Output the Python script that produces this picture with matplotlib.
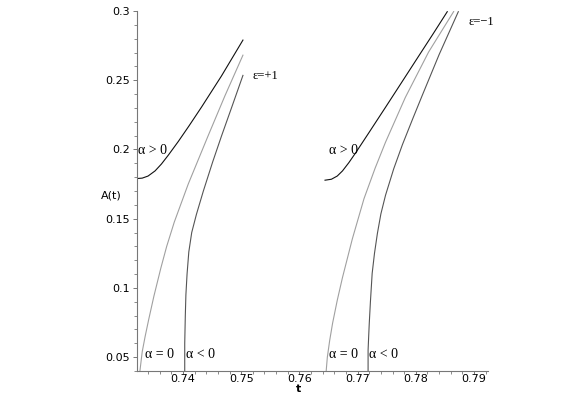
import matplotlib
matplotlib.use('Agg')
import matplotlib.pyplot as plt
from matplotlib.ticker import MultipleLocator

# curves, (t, A) pairs
# epsilon = +1
t_p1_pos = [0.7321, 0.7330, 0.7340, 0.7352, 0.7363, 0.7375, 0.7392, 0.7410, 0.7432, 0.7466, 0.7503]
A_p1_pos = [0.1790, 0.1793, 0.1808, 0.1845, 0.1895, 0.1960, 0.2058, 0.2168, 0.2307, 0.2530, 0.2790]
t_p1_zero = [0.7326, 0.7330, 0.7335, 0.7341, 0.7350, 0.7362, 0.7372, 0.7385, 0.7409, 0.7443, 0.7472, 0.7503]
A_p1_zero = [0.040, 0.054, 0.065, 0.077, 0.094, 0.1144, 0.130, 0.1475, 0.175, 0.2097, 0.2387, 0.2681]
t_p1_neg = [0.7403, 0.7403, 0.7404, 0.7405, 0.7407, 0.7410, 0.7415, 0.7423, 0.7435, 0.7451, 0.7466, 0.7485, 0.7503]
A_p1_neg = [0.040, 0.060, 0.080, 0.095, 0.110, 0.126, 0.140, 0.153, 0.170, 0.191, 0.2095, 0.232, 0.2535]

# epsilon = -1
t_m1_pos = [0.7644, 0.7655, 0.7665, 0.7674, 0.7685, 0.7697, 0.7720, 0.7748, 0.7775, 0.7805, 0.7830, 0.7854]
A_m1_pos = [0.1778, 0.1785, 0.1808, 0.1845, 0.1905, 0.1978, 0.2125, 0.2305, 0.2480, 0.2675, 0.2837, 0.2995]
t_m1_zero = [0.7646, 0.7648, 0.7652, 0.7657, 0.7665, 0.7674, 0.7691, 0.7711, 0.7730, 0.7748, 0.7782, 0.7822, 0.7865]
A_m1_zero = [0.040, 0.050, 0.062, 0.0745, 0.091, 0.1075, 0.1355, 0.1645, 0.1864, 0.2053, 0.2376, 0.2704, 0.2996]
t_m1_neg = [0.7718, 0.7718, 0.7719, 0.7720, 0.7722, 0.7725, 0.7729, 0.7734, 0.7740, 0.7748, 0.7762, 0.7777, 0.7795, 0.7811, 0.7840, 0.7873]
A_m1_neg = [0.040, 0.055, 0.065, 0.0743, 0.090, 0.1105, 0.125, 0.1394, 0.1535, 0.167, 0.186, 0.2035, 0.2225, 0.2390, 0.2685, 0.2995]

x_ticks = [0.74, 0.75, 0.76, 0.77, 0.78, 0.79]
y_ticks = [0.05, 0.1, 0.15, 0.2, 0.25, 0.3]

c_pos, c_zero, c_neg = '#111111', '#a0a0a0', '#555555'
serif = 'Liberation Serif'

fig = plt.figure(figsize=(5.81, 3.94), dpi=100)
ax = fig.add_axes([137 / 581, 23 / 394, 351 / 581, 360 / 394])

for t, A, c in [(t_p1_pos, A_p1_pos, c_pos), (t_p1_zero, A_p1_zero, c_zero),
                (t_p1_neg, A_p1_neg, c_neg), (t_m1_pos, A_m1_pos, c_pos),
                (t_m1_zero, A_m1_zero, c_zero), (t_m1_neg, A_m1_neg, c_neg)]:
    ax.plot(t, A, color=c, lw=0.8)

ax.set_xlim(0.7321, 0.7924)
ax.set_ylim(0.04, 0.3)
ax.set_xticks(x_ticks)
ax.set_xticklabels([f'{v:g}' for v in x_ticks])
ax.set_yticks(y_ticks)
ax.set_yticklabels([f'{v:g}' for v in y_ticks])
ax.xaxis.set_minor_locator(MultipleLocator(0.002))
ax.yaxis.set_minor_locator(MultipleLocator(0.01))

for s in ['top', 'right']:
    ax.spines[s].set_visible(False)
for s in ['left', 'bottom']:
    ax.spines[s].set_color('#777777')
    ax.spines[s].set_linewidth(0.8)
ax.tick_params(which='major', length=3, width=0.7, color='#777777', labelsize=8)
ax.tick_params(axis='x', which='major', length=2, pad=0)
ax.tick_params(axis='y', which='major', pad=2)
ax.tick_params(which='minor', length=2, width=0.6, color='#777777')

ax.text(0.7295, 0.167, 'A(t)', fontsize=8, ha='right', va='center')
ax.text(0.7598, 0.0272, 't', fontsize=8, ha='center', va='center',
        fontweight='bold', clip_on=False)

# curve labels
ax.text(0.7323, 0.199, 'α > 0', family=serif, fontsize=10, ha='left', va='center')
ax.text(0.7334, 0.052, 'α = 0', family=serif, fontsize=10, ha='left', va='center')
ax.text(0.7405, 0.052, 'α < 0', family=serif, fontsize=10, ha='left', va='center')
ax.text(0.7520, 0.253, 'ε=+1', family=serif, fontsize=9, ha='left', va='center')
ax.text(0.7650, 0.199, 'α > 0', family=serif, fontsize=10, ha='left', va='center')
ax.text(0.7650, 0.052, 'α = 0', family=serif, fontsize=10, ha='left', va='center')
ax.text(0.7720, 0.052, 'α < 0', family=serif, fontsize=10, ha='left', va='center')
ax.text(0.7890, 0.292, 'ε=−1', family=serif, fontsize=9, ha='left', va='center')

plt.savefig('out.png', dpi=100)
